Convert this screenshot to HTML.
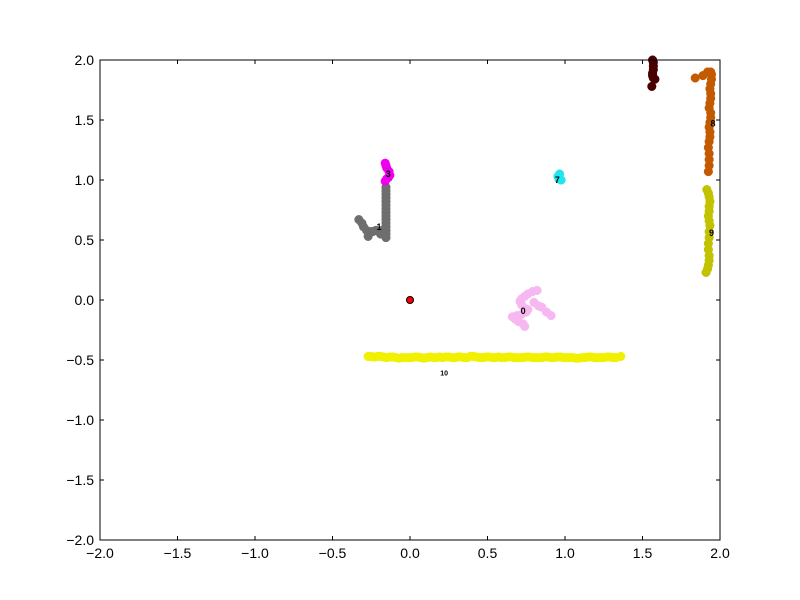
<!DOCTYPE html>
<html><head><meta charset="utf-8"><style>
body{margin:0;background:#fff}
svg{display:block;font-family:"Liberation Sans","DejaVu Sans",sans-serif}
</style></head><body>
<svg id="chart" width="800" height="600" viewBox="0 0 800 600">
<rect x="0" y="0" width="800" height="600" fill="#fff"/>
<g id="marks"></g>
<g id="axes"></g>
</svg>
<script>
const xTicks=[-2,-1.5,-1,-0.5,0,0.5,1,1.5,2];
const yTicks=[-2,-1.5,-1,-0.5,0,0.5,1,1.5,2];
const xTickLabels=["−2.0","−1.5","−1.0","−0.5","0.0","0.5","1.0","1.5","2.0"];
const yTickLabels=["−2.0","−1.5","−1.0","−0.5","0.0","0.5","1.0","1.5","2.0"];
const clusterNames=["0","1","3","7","8","9","10","maroon","origin"];
const clusterColors=["#f7b8f2","#6e6e6e","#ee00ee","#22e6ee","#c45a00","#c2c200","#f0f000","#4a0000","#ff0000"];
const cluster0X=[0.82,0.79,0.76,0.74,0.72,0.71,0.72,0.74,0.75,0.72,0.69,0.66,0.68,0.70,0.73,0.74,0.85,0.88,0.91,0.80,0.83,0.76];
const cluster0Y=[0.08,0.07,0.05,0.03,0.01,-0.01,-0.04,-0.07,-0.10,-0.12,-0.13,-0.14,-0.16,-0.18,-0.20,-0.22,-0.06,-0.10,-0.13,-0.02,-0.05,-0.08];
const cluster1X=[-0.155,-0.155,-0.155,-0.155,-0.155,-0.155,-0.155,-0.155,-0.155,-0.155,-0.155,-0.155,-0.155,-0.155,-0.155,-0.16,-0.18,-0.20,-0.22,-0.24,-0.26,-0.28,-0.30,-0.33,-0.27,-0.25,-0.19,-0.31];
const cluster1Y=[0.94,0.91,0.88,0.85,0.82,0.79,0.76,0.73,0.70,0.67,0.64,0.61,0.58,0.55,0.52,0.57,0.58,0.57,0.58,0.57,0.56,0.58,0.61,0.67,0.53,0.57,0.55,0.64];
const cluster3X=[-0.16,-0.155,-0.15,-0.135,-0.13,-0.14,-0.15,-0.16];
const cluster3Y=[1.14,1.12,1.10,1.07,1.04,1.02,1.01,0.99];
const cluster7X=[0.955,0.965,0.975,0.96];
const cluster7Y=[1.03,1.05,1.00,1.01];
const cluster8X=[1.84,1.89,1.92,1.94,1.945,1.945,1.94,1.935,1.94,1.94,1.935,1.93,1.94,1.94,1.935,1.93,1.935,1.935,1.93,1.925,1.93,1.93,1.93,1.925];
const cluster8Y=[1.85,1.87,1.90,1.90,1.88,1.84,1.80,1.76,1.72,1.68,1.64,1.60,1.56,1.52,1.48,1.44,1.40,1.36,1.32,1.27,1.22,1.17,1.12,1.07];
const cluster9X=[1.915,1.925,1.93,1.935,1.93,1.93,1.925,1.93,1.935,1.93,1.93,1.925,1.925,1.93,1.93,1.925,1.92,1.91];
const cluster9Y=[0.92,0.89,0.86,0.82,0.78,0.74,0.70,0.66,0.62,0.57,0.52,0.47,0.42,0.37,0.33,0.29,0.26,0.23];
const cluster10X=[-0.27,-0.25,-0.23,-0.21,-0.19,-0.17,-0.15,-0.13,-0.11,-0.09,-0.07,-0.05,-0.03,-0.01,0.01,0.03,0.05,0.07,0.09,0.11,0.13,0.15,0.17,0.19,0.21,0.23,0.25,0.27,0.29,0.31,0.33,0.35,0.37,0.39,0.41,0.43,0.45,0.47,0.49,0.51,0.53,0.55,0.57,0.59,0.61,0.63,0.65,0.67,0.69,0.71,0.73,0.75,0.77,0.79,0.81,0.83,0.85,0.87,0.89,0.91,0.93,0.95,0.97,0.99,1.01,1.03,1.05,1.07,1.09,1.11,1.13,1.15,1.17,1.19,1.21,1.23,1.25,1.27,1.29,1.31,1.33,1.36];
const cluster10Y=[-0.47,-0.47,-0.475,-0.47,-0.47,-0.475,-0.48,-0.475,-0.475,-0.48,-0.485,-0.48,-0.48,-0.48,-0.48,-0.475,-0.475,-0.48,-0.485,-0.48,-0.475,-0.48,-0.48,-0.475,-0.48,-0.475,-0.475,-0.48,-0.48,-0.475,-0.475,-0.48,-0.48,-0.47,-0.47,-0.475,-0.48,-0.48,-0.475,-0.475,-0.48,-0.48,-0.475,-0.48,-0.48,-0.475,-0.475,-0.48,-0.48,-0.48,-0.48,-0.475,-0.475,-0.48,-0.48,-0.48,-0.48,-0.475,-0.475,-0.48,-0.48,-0.475,-0.475,-0.48,-0.48,-0.48,-0.48,-0.485,-0.485,-0.48,-0.48,-0.475,-0.475,-0.48,-0.48,-0.48,-0.48,-0.475,-0.475,-0.48,-0.48,-0.47];
const clusterMX=[1.565,1.57,1.57,1.57,1.565,1.565,1.57,1.58,1.56];
const clusterMY=[2.0,1.98,1.95,1.92,1.89,1.87,1.85,1.84,1.78];
const originX=[0];
const originY=[0];
const labelText=["0","1","3","7","8","9","10"];
const labelX=[0.73,-0.20,-0.14,0.95,1.955,1.945,0.22];
const labelY=[-0.09,0.61,1.05,1.00,1.47,0.56,-0.605];

const X0=100,X1=720,Y0=540,Y1=60;
const sx=v=>X0+(v+2)/4*(X1-X0);
const sy=v=>Y0-(v+2)/4*(Y0-Y1);
const NS="http://www.w3.org/2000/svg";
const marks=document.getElementById('marks');
const axes=document.getElementById('axes');
function mk(tag,attrs,parent){const e=document.createElementNS(NS,tag);for(const k in attrs)e.setAttribute(k,attrs[k]);parent.appendChild(e);return e;}
const sets=[[cluster0X,cluster0Y],[cluster1X,cluster1Y],[cluster3X,cluster3Y],[cluster7X,cluster7Y],[cluster8X,cluster8Y],[cluster9X,cluster9Y],[cluster10X,cluster10Y],[clusterMX,clusterMY],[originX,originY]];
sets.forEach((s,i)=>{
  const g=mk('g',{},marks);
  
  
  s[0].forEach((x,j)=>{
    const c=mk('circle',{cx:sx(x),cy:sy(s[1][j]),r:i===8?3.5:4.3,fill:clusterColors[i],stroke:i===8?'#000':clusterColors[i],'stroke-width':i===8?1:0.5},g);
    
    
  });
});
labelText.forEach((t,i)=>{
  const e=mk('text',{x:sx(labelX[i]),y:sy(labelY[i])+3,'font-size':i===6?7:9,'font-weight':'bold','text-anchor':'middle',fill:'#000'},marks);
  e.textContent=t;
  
  
});
const frame=mk('rect',{x:X0,y:Y1,width:X1-X0,height:Y0-Y1,fill:'none',stroke:'#000','stroke-width':1},axes);


xTicks.forEach((v,i)=>{
  const x=sx(v);
  mk('line',{x1:x,x2:x,y1:Y0,y2:Y0-4,stroke:'#000'},axes);
  mk('line',{x1:x,x2:x,y1:Y1,y2:Y1+4,stroke:'#000'},axes);
  const t=mk('text',{x:x,y:Y0+18,'font-size':14,'text-anchor':'middle'},axes);
  t.textContent=xTickLabels[i];
  
  
});
yTicks.forEach((v,i)=>{
  const y=sy(v);
  mk('line',{x1:X0,x2:X0+4,y1:y,y2:y,stroke:'#000'},axes);
  mk('line',{x1:X1,x2:X1-4,y1:y,y2:y,stroke:'#000'},axes);
  const t=mk('text',{x:X0-6,y:y+5,'font-size':14,'text-anchor':'end'},axes);
  t.textContent=yTickLabels[i];
  
  
});
</script>
</body></html>
